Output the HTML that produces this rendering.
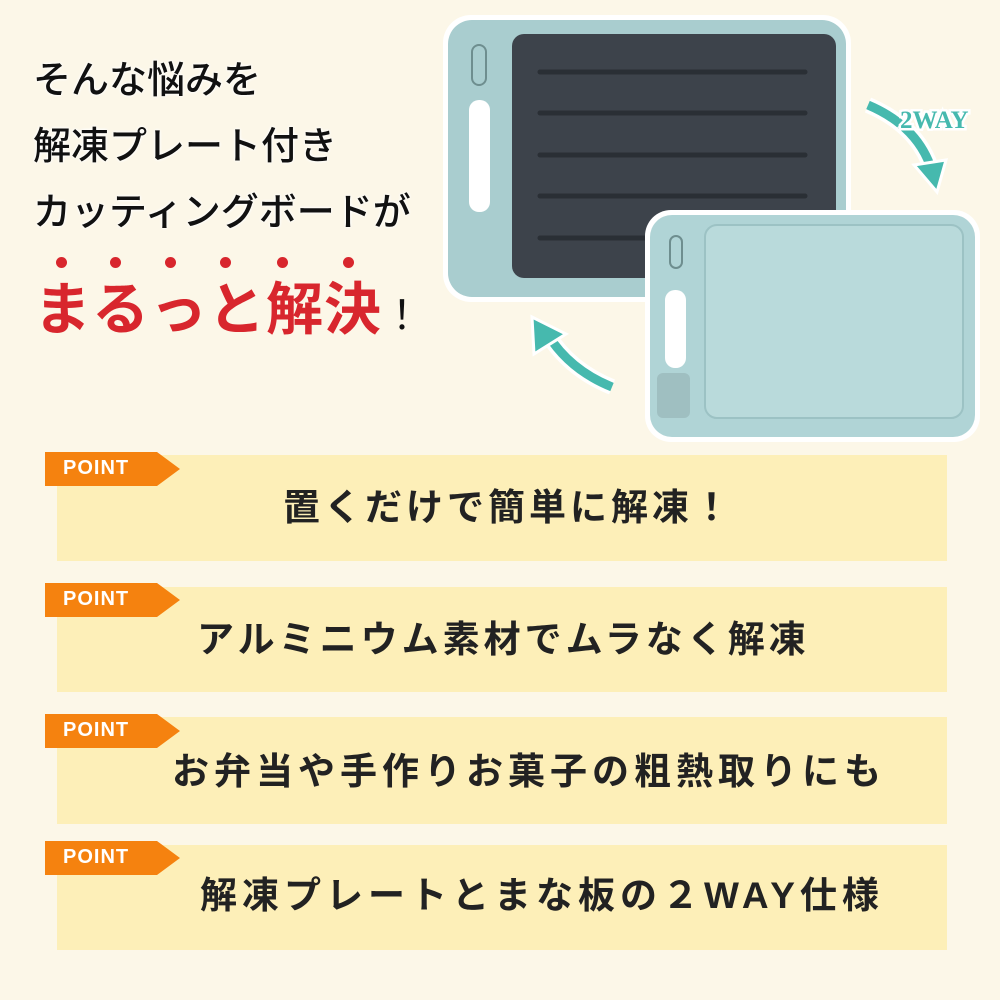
<!DOCTYPE html>
<html><head><meta charset="utf-8"><style>
body{margin:0;width:1000px;height:1000px;background:#fcf7e8;position:relative;overflow:hidden;font-family:"Liberation Sans","Noto Sans CJK JP",sans-serif;}
.t{position:absolute;left:33px;font-size:38px;font-weight:500;color:#111;white-space:nowrap;line-height:1;text-shadow:0 0 3px #fff,0 0 3px #fff;}
.red{position:absolute;left:34px;top:282px;font-size:57px;font-weight:bold;color:#d8262d;line-height:1;white-space:nowrap;letter-spacing:1px}
.dot{position:absolute;width:11px;height:11px;border-radius:50%;background:#d8262d;top:257px}
.box{position:absolute;left:57px;width:890px;background:#fdefb8;}
.bt{position:absolute;font-size:37px;font-weight:bold;color:#222;letter-spacing:4px;white-space:nowrap;line-height:1;}
.tag{position:absolute;left:45px;width:135px;height:34px;}
.tag span{position:absolute;left:18px;top:5px;color:#fff;font-weight:bold;font-size:20px;letter-spacing:1px}
</style></head><body>
<div class="t" style="top:62px">そんな悩みを</div>
<div class="t" style="top:128px">解凍プレート付き</div>
<div class="t" style="top:194px">カッティングボードが</div>
<div class="dot" style="left:56px"></div><div class="dot" style="left:110px"></div><div class="dot" style="left:165px"></div><div class="dot" style="left:220px"></div><div class="dot" style="left:277px"></div><div class="dot" style="left:343px"></div>
<div class="red">まるっと解決<span style="color:#111;font-size:40px;font-weight:normal">！</span></div>

<svg style="position:absolute;left:0;top:0" width="1000" height="450">
 <rect x="443" y="15" width="408" height="287" rx="28" fill="#fff"/>
 <rect x="448" y="20" width="398" height="277" rx="24" fill="#a9cdcf"/>
 <rect x="512" y="34" width="324" height="244" rx="12" fill="#3d434b"/>
 <g stroke="#2a2f35" stroke-width="5" stroke-linecap="round"><line x1="540" y1="72" x2="805" y2="72"/><line x1="540" y1="113" x2="805" y2="113"/><line x1="540" y1="155" x2="805" y2="155"/><line x1="540" y1="196" x2="805" y2="196"/><line x1="540" y1="238" x2="805" y2="238"/></g>
 <rect x="472" y="45" width="14" height="40" rx="7" fill="none" stroke="#6e8e8f" stroke-width="2"/>
 <rect x="469" y="100" width="21" height="112" rx="10" fill="#fff"/>
 <rect x="645" y="210" width="335" height="232" rx="26" fill="#fff"/>
 <rect x="650" y="215" width="325" height="222" rx="22" fill="#b0d4d6"/>
 <rect x="705" y="225" width="258" height="193" rx="12" fill="#b9dadb" stroke="#9cc2c4" stroke-width="2"/>
 <rect x="670" y="236" width="12" height="32" rx="6" fill="none" stroke="#6e8e8f" stroke-width="2"/>
 <rect x="665" y="290" width="21" height="78" rx="10" fill="#fff"/>
 <rect x="657" y="373" width="33" height="45" rx="6" fill="#9fbfc1"/>
 <path d="M868 105 Q915 125 930 165" stroke="#fff" stroke-width="16" fill="none"/>
 <path d="M868 105 Q915 125 930 165" stroke="#46b9ae" stroke-width="9" fill="none"/>
 <polygon points="914,165 946,160 937,192" fill="#46b9ae" stroke="#fff" stroke-width="3"/>
 <text x="900" y="128" font-family="Liberation Serif,serif" font-weight="bold" font-size="25" fill="#46b9ae" stroke="#fff" stroke-width="5" paint-order="stroke">2WAY</text>
 <path d="M612 387 Q570 370 548 335" stroke="#fff" stroke-width="16" fill="none"/>
 <path d="M612 387 Q570 370 548 335" stroke="#46b9ae" stroke-width="9" fill="none"/>
 <polygon points="532,317 534,354 566,334" fill="#46b9ae" stroke="#fff" stroke-width="3"/>
</svg>

<div class="box" style="top:455px;height:106px"></div>
<div class="box" style="top:587px;height:105px"></div>
<div class="box" style="top:717px;height:107px"></div>
<div class="box" style="top:845px;height:105px"></div>
<div class="bt" style="left:283px;top:489px">置くだけで簡単に解凍！</div>
<div class="bt" style="left:197px;top:621px">アルミニウム素材でムラなく解凍</div>
<div class="bt" style="left:172px;top:753px;letter-spacing:5px">お弁当や手作りお菓子の粗熱取りにも</div>
<div class="bt" style="left:200px;top:877px;letter-spacing:5px">解凍プレートとまな板の２WAY仕様</div>

<svg class="tag" style="top:452px" viewBox="0 0 135 34"><polygon points="0,0 112,0 135,17 112,34 0,34" fill="#f5820f"/></svg><div class="tag" style="top:452px"><span>POINT</span></div>
<svg class="tag" style="top:583px" viewBox="0 0 135 34"><polygon points="0,0 112,0 135,17 112,34 0,34" fill="#f5820f"/></svg><div class="tag" style="top:583px"><span>POINT</span></div>
<svg class="tag" style="top:714px" viewBox="0 0 135 34"><polygon points="0,0 112,0 135,17 112,34 0,34" fill="#f5820f"/></svg><div class="tag" style="top:714px"><span>POINT</span></div>
<svg class="tag" style="top:841px" viewBox="0 0 135 34"><polygon points="0,0 112,0 135,17 112,34 0,34" fill="#f5820f"/></svg><div class="tag" style="top:841px"><span>POINT</span></div>
</body></html>
